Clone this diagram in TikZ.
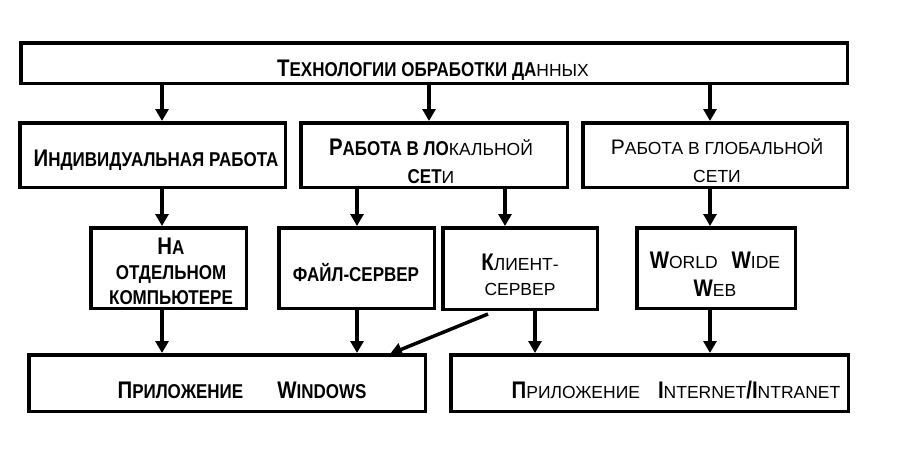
\documentclass[tikz,border=0pt]{standalone}
\usepackage{fontspec}
\setmainfont{Liberation Sans}
\newfontfamily\condf[FakeStretch=0.85]{Liberation Sans}
\usetikzlibrary{arrows.meta}
\newcommand\xBL[1]{{\condf\bfseries\fontsize{24}{\baselineskip}\selectfont #1}}
\newcommand\xBS[1]{{\condf\bfseries\fontsize{20}{\baselineskip}\selectfont #1}}
\newcommand\xRL[1]{{\fontsize{21}{\baselineskip}\selectfont #1}}
\newcommand\xRS[1]{{\fontsize{17.5}{\baselineskip}\selectfont #1}}
\begin{document}
\begin{tikzpicture}[x=1pt,y=-1pt,
  box/.style={draw, line width=3.5pt, inner sep=0pt},
  lbl/.style={inner sep=0pt, align=center, font=\fontsize{16}{28}\selectfont},
  lblb/.style={lbl, font=\fontsize{16}{25}\selectfont},
  arr/.style={line width=3.5pt, -{Triangle[length=12pt,width=13pt]}}]
\useasboundingbox (0,0) rectangle (906,450);
\fill[white] (0,0) rectangle (906,450);
% boxes
\node[box, minimum width=826.5pt, minimum height=40.5pt] (top) at (434,63) {};
\node[box, minimum width=265.5pt, minimum height=64.5pt] (b1) at (152.5,155) {};
\node[box, minimum width=266.5pt, minimum height=64.5pt] (b2) at (434,155) {};
\node[box, minimum width=264.5pt, minimum height=64.5pt] (b3) at (715,155) {};
\node[box, minimum width=155.5pt, minimum height=80.5pt] (c1) at (168.5,268) {};
\node[box, minimum width=155.5pt, minimum height=80.5pt] (c2) at (356.5,268) {};
\node[box, minimum width=154.5pt, minimum height=81.5pt] (c3) at (520,268.5) {};
\node[box, minimum width=158.5pt, minimum height=80.5pt] (c4) at (716,268) {};
\node[box, minimum width=396.5pt, minimum height=56.5pt] (d1) at (227,383) {};
\node[box, minimum width=397.5pt, minimum height=56.5pt] (d2) at (649.5,383) {};
% texts
\node[lbl] (ttop) at (433,70) {\xBL{Т}\xBS{ЕХНОЛОГИИ ОБРАБОТКИ ДА}\xRS{ННЫХ}};
\node[lbl] (tb1) at (156,160) {\xBL{И}\xBS{НДИВИДУАЛЬНАЯ РАБОТА}};
\node[lbl] (tb2) at (431,161) {\xBL{Р}\xBS{АБОТА В ЛО}\xRS{КАЛЬНОЙ}\\\xBS{СЕТ}\xRS{И}};
\node[lbl] (tb3) at (717,161) {\xRL{Р}\xRS{АБОТА В ГЛОБАЛЬНОЙ}\\\xRS{СЕТИ}};
\node[lblb] (tc1) at (171,271) {\xBL{Н}\xBS{А}\\\xBS{ОТДЕЛЬНОМ}\\\xBS{КОМПЬЮТЕРЕ}};
\node[lbl] (tc2) at (356,273) {\xBS{ФАЙЛ-СЕРВЕР}};
\node[lblb] (tc3) at (520,275) {\xBL{К}\xRS{ЛИЕНТ-}\\\xRS{СЕРВЕР}};
\node[lbl] (tc4) at (715,274) {\xBL{W}\xRS{ORLD}\hspace{14pt}\xBL{W}\xRS{IDE}\\\xBL{W}\xRS{EB}};
\node[lbl] (td1) at (242,390) {\xBL{П}\xBS{РИЛОЖЕНИЕ}\hspace{34pt}\xBL{W}\xBS{INDOWS}};
\node[lbl] (td2) at (676,390) {\xBL{П}\xRS{РИЛОЖЕНИЕ}\hspace{18pt}\xBL{I}\xRS{NTERNET}\xBL{/I}\xRS{NTRANET}};
% connectors
\coordinate (xa) at (162,0);
\coordinate (xb) at (429,0);
\coordinate (xc) at (710,0);
\coordinate (xd) at (357,0);
\coordinate (xe) at (505,0);
\coordinate (xf) at (535,0);
\draw[arr] (top.south -| xa) -- (b1.north -| xa);
\draw[arr] (top.south -| xb) -- (b2.north -| xb);
\draw[arr] (top.south -| xc) -- (b3.north -| xc);
\draw[arr] (b1.south -| xa) -- (c1.north -| xa);
\draw[arr] (b2.south -| xd) -- (c2.north -| xd);
\draw[arr] (b2.south -| xe) -- (c3.north -| xe);
\draw[arr] (b3.south -| xc) -- (c4.north -| xc);
\draw[arr] ([yshift=3pt]c1.south -| xa) -- (d1.north -| xa);
\draw[arr] ([yshift=3pt]c2.south -| xd) -- (d1.north -| xd);
\coordinate (dg) at (488,314);
\coordinate (dh) at (390,354);
\draw[arr] (dg) -- (dh);
\draw[arr] ([yshift=3pt]c3.south -| xf) -- (d2.north -| xf);
\draw[arr] ([yshift=3pt]c4.south -| xc) -- (d2.north -| xc);
\end{tikzpicture}
\end{document}
